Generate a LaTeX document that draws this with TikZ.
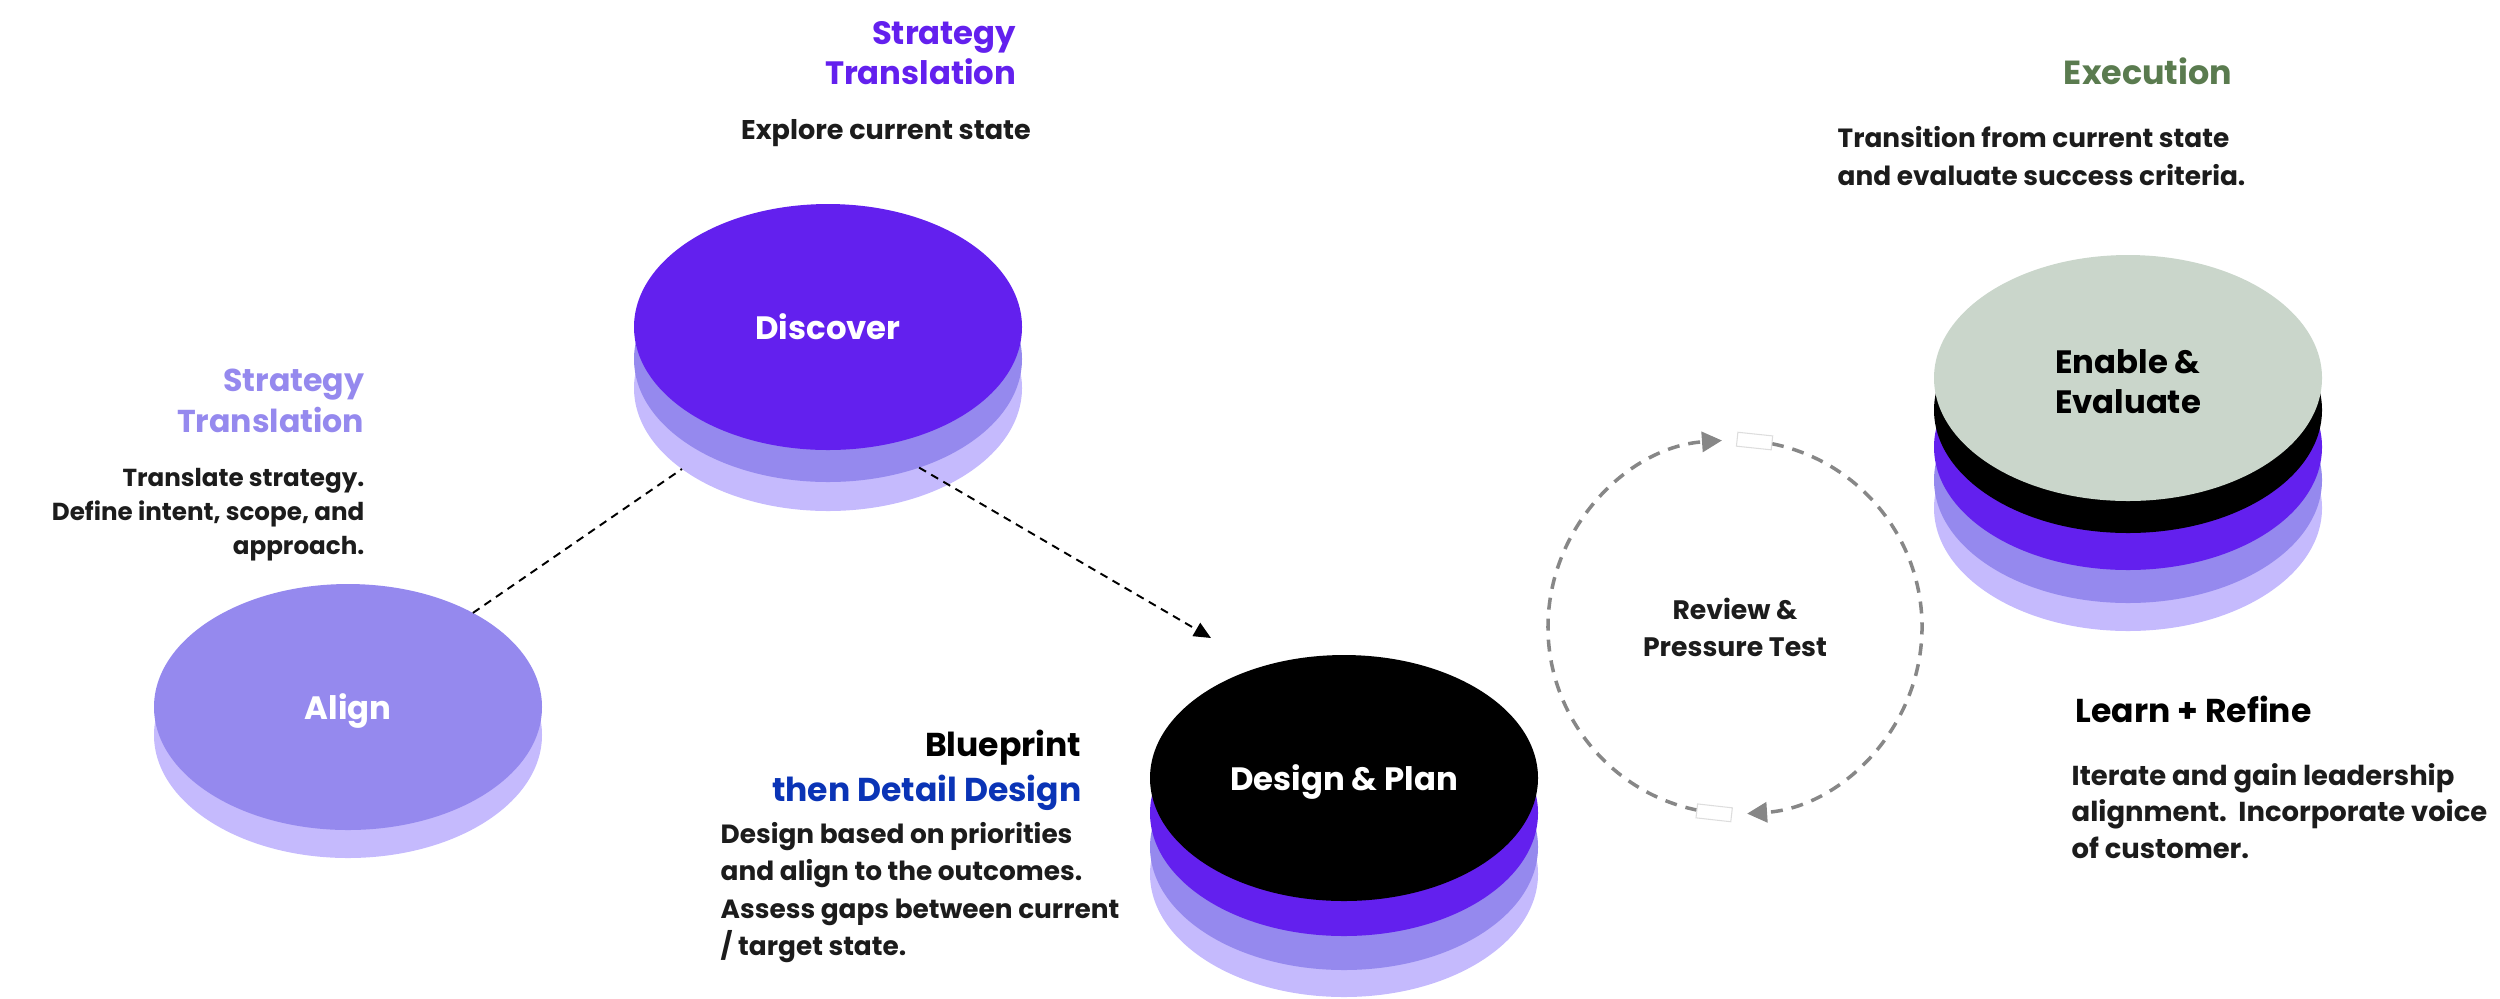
\documentclass[tikz,border=0pt]{standalone}
\usepackage{fontspec}
\setmainfont{Poppins}
\usepackage{xcolor}
\definecolor{cVivid}{HTML}{6320EE}
\definecolor{cMid}{HTML}{9589EE}
\definecolor{cLight}{HTML}{C5BAFD}
\definecolor{cSage}{HTML}{CAD6CB}
\definecolor{cGreen}{HTML}{5A7B4F}
\definecolor{cBlue}{HTML}{0A34B6}
\definecolor{cInk}{HTML}{1C1C1C}
\definecolor{cLoop}{HTML}{878787}
\definecolor{cGapLine}{HTML}{DDDDDD}
\usetikzlibrary{positioning,arrows.meta,shapes.geometric,calc}
\tikzset{
  node-disc/.style={ellipse,minimum width=38.8mm,minimum height=24.6mm,
    inner sep=0pt,outer sep=0pt,draw=none,align=center},
  disc-label/.style={font=\fontsize{9.2}{11.4}\selectfont\bfseries,text depth=0pt},
  txt-head/.style={font=\fontsize{9.2}{11.4}\selectfont\bfseries,inner sep=0pt},
  txt-body/.style={font=\fontsize{7.5}{10.6}\selectfont\bfseries,text=cInk,inner sep=0pt},
  link/.style={dash pattern=on 0.8mm off 0.6mm,line width=0.55pt,draw=black},
  link-arrow/.style={link,-{Triangle[length=1.7mm,width=1.5mm]}},
  loop-arrow/.style={draw=cLoop,line width=1pt,dash pattern=on 1.2mm off 0.9mm,
    -{Triangle[length=2mm,width=2mm]}},
  gap-box/.style={draw=cGapLine,fill=white,line width=0.3pt,
    minimum width=3.5mm,minimum height=1.4mm,inner sep=0pt},
}

\begin{document}
\begin{tikzpicture}[x=1cm,y=1cm]
  \useasboundingbox (0,0) rectangle (25,-9.98);
  % top discs of each stack
  \coordinate (pAln) at (3.48,-7.07);
  \coordinate (pDsc) at (8.28,-3.27);
  \coordinate (pDsn) at (13.44,-7.78);
  \coordinate (pEnb) at (21.28,-3.78);

  % Align
  \node[node-disc,fill=cLight,yshift=-2.8mm] (aln-1) at (pAln) {};
  \node[node-disc,fill=cMid,text=white,disc-label] (aln) at (pAln) {Align};

  % Discover
  \foreach \c/\d/\n in {cLight/6.1/2,cMid/3.2/1}
    \node[node-disc,fill=\c,yshift=-\d*1mm] (dsc-\n) at (pDsc) {};
  \node[node-disc,fill=cVivid,text=white,disc-label] (dsc) at (pDsc) {Discover};

  % Design & Plan
  \foreach \c/\d/\n in {cLight/9.6/3,cMid/6.9/2,cVivid/3.5/1}
    \node[node-disc,fill=\c,yshift=-\d*1mm] (dsn-\n) at (pDsn) {};
  \node[node-disc,fill=black,text=white,disc-label] (dsn) at (pDsn) {Design \& Plan};

  % Enable & Evaluate
  \foreach \c/\d/\n in {cLight/13.0/4,cMid/10.2/3,cVivid/6.9/2,black/3.2/1}
    \node[node-disc,fill=\c,yshift=-\d*1mm] (enb-\n) at (pEnb) {};
  \node[node-disc,fill=cSage] (enb) at (pEnb) {};
  \node[disc-label,align=center,yshift=-0.35mm] (enbText) at (enb.center)
    {Enable \&\\Evaluate};

  % dashed links
  \coordinate (dsnIn) at (12.11,-6.38);
  \draw[link] (aln.37) -- (dsc-2.-151);
  \draw[link-arrow] (dsc-1.-50) -- (dsnIn);

  % review loop
  \coordinate (rvwC) at (17.35,-6.27);
  \node[txt-body,font=\fontsize{7.6}{10.5}\selectfont\bfseries,align=center]
    (rvw) at (rvwC) {Review \&\\Pressure Test};
  \draw[loop-arrow] ($(rvwC)+(258.3:1.87)$) arc[start angle=258.3,end angle=94,radius=1.87];
  \draw[loop-arrow] ($(rvwC)+(78.6:1.87)$) arc[start angle=78.6,end angle=-86.3,radius=1.87];
  \node[gap-box,rotate=-6] (gapTop) at ($(rvwC)+(84:1.87)$) {};
  \node[gap-box,rotate=-6.4] (gapBot) at ($(rvwC)+(263.6:1.87)$) {};

  % texts
  \node[txt-head,text=cVivid,align=right,anchor=east] (dscHead) at (10.17,-0.53)
    {Strategy\\Translation};
  \node[txt-body,font=\fontsize{7.7}{10.6}\selectfont\bfseries] (dscBody) at (8.86,-1.33)
    {Explore current state};
  \node[txt-head,font=\fontsize{9.0}{11.5}\selectfont\bfseries,text=cMid,
    align=right,anchor=east] (alnHead) at (3.65,-4.01) {Strategy\\Translation};
  \node[txt-body,font=\fontsize{7.0}{9.75}\selectfont\bfseries,align=right,anchor=east]
    (alnBody) at (3.65,-5.145) {Translate strategy.\\Define intent, scope, and\\approach.};
  \node[txt-head,font=\fontsize{9.4}{12.8}\selectfont\bfseries,align=right,anchor=east]
    (dsnHead) at (10.82,-7.705) {Blueprint\\\textcolor{cBlue}{then Detail Design}};
  \node[txt-body,align=left,anchor=west] (dsnBody) at (7.20,-8.925)
    {Design based on priorities\\and align to the outcomes.\\Assess gaps between current\\/ target state.};
  \node[txt-head,font=\fontsize{9.5}{11.4}\selectfont\bfseries,text=cGreen]
    (enbHead) at (21.48,-0.717) {Execution};
  \node[txt-body,align=left,anchor=west] (enbBody) at (18.37,-1.56)
    {Transition from current state\\and evaluate success criteria.};
  \node[txt-head,font=\fontsize{9.4}{11.4}\selectfont\bfseries,anchor=west]
    (lrnHead) at (20.75,-7.09) {Learn + Refine};
  \node[txt-body,font=\fontsize{7.8}{10.4}\selectfont\bfseries,align=left,anchor=west]
    (lrnBody) at (20.71,-8.11) {Iterate and gain leadership\\alignment.\ \ Incorporate voice\\of customer.};
\end{tikzpicture}
\end{document}
